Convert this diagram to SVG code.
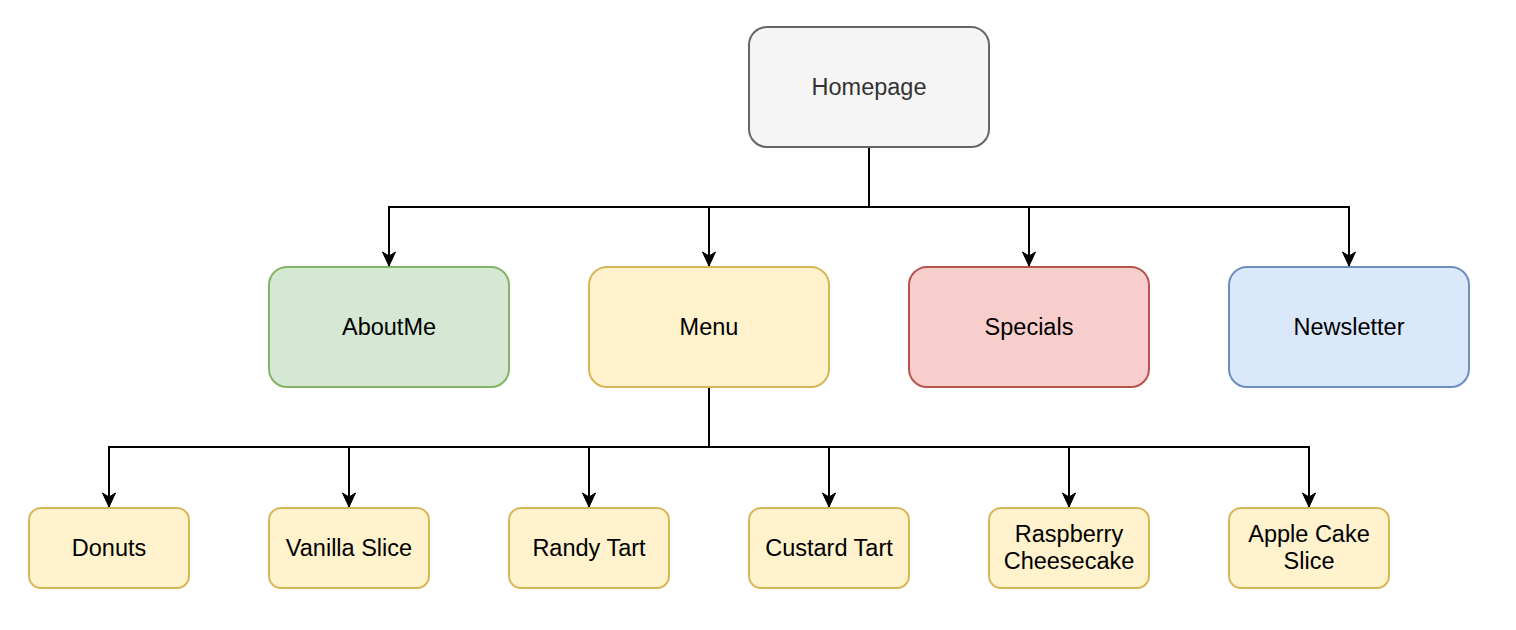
<svg xmlns="http://www.w3.org/2000/svg" width="1516" height="630" viewBox="0 0 1516 630">
<defs>
<style>
text{font-family:"Liberation Sans",Arial,sans-serif;font-size:23.5px;text-anchor:middle;fill:#000}
.box{stroke-width:2}
.gray{fill:#f5f5f5;stroke:#666666}
.green{fill:#d5e8d4;stroke:#82b366}
.yellow{fill:#fff2cc;stroke:#d6b656}
.red{fill:#f8cecc;stroke:#b85450}
.blue{fill:#dae8fc;stroke:#6c8ebf}
.edge{fill:none;stroke:#000;stroke-width:2}
</style>
<marker id="arr" markerUnits="userSpaceOnUse" markerWidth="18" markerHeight="18" viewBox="-16 -9 18 18" refX="0" refY="0" orient="auto">
<path d="M0,0 L-14,-6.5 L-10,0 L-14,6.5 Z" fill="#000" stroke="#000" stroke-width="1"/>
</marker>
</defs>
<rect width="1516" height="630" fill="#fff"/>
<g id="connectors">
<path class="edge" d="M869,147 V207 H389 V266" marker-end="url(#arr)"/>
<path class="edge" d="M869,207 H709 V266" marker-end="url(#arr)"/>
<path class="edge" d="M869,207 H1029 V266" marker-end="url(#arr)"/>
<path class="edge" d="M869,207 H1349 V266" marker-end="url(#arr)"/>
<path class="edge" d="M709,387 V447 H109 V507" marker-end="url(#arr)"/>
<path class="edge" d="M349,447 V507" marker-end="url(#arr)"/>
<path class="edge" d="M589,447 V507" marker-end="url(#arr)"/>
<path class="edge" d="M709,447 H829 V507" marker-end="url(#arr)"/>
<path class="edge" d="M829,447 H1069 V507" marker-end="url(#arr)"/>
<path class="edge" d="M1069,447 H1309 V507" marker-end="url(#arr)"/>
</g>
<g id="homepage"><rect class="box gray" x="749" y="27" width="240" height="120" rx="18"/><text x="869" y="95" style="fill:#333333">Homepage</text></g>
<g id="aboutme"><rect class="box green" x="269" y="267" width="240" height="120" rx="18"/><text x="389" y="335">AboutMe</text></g>
<g id="menu"><rect class="box yellow" x="589" y="267" width="240" height="120" rx="18"/><text x="709" y="335">Menu</text></g>
<g id="specials"><rect class="box red" x="909" y="267" width="240" height="120" rx="18"/><text x="1029" y="335">Specials</text></g>
<g id="newsletter"><rect class="box blue" x="1229" y="267" width="240" height="120" rx="18"/><text x="1349" y="335">Newsletter</text></g>
<g id="donuts"><rect class="box yellow" x="29" y="508" width="160" height="80" rx="12"/><text x="109" y="556">Donuts</text></g>
<g id="vanilla"><rect class="box yellow" x="269" y="508" width="160" height="80" rx="12"/><text x="349" y="556">Vanilla Slice</text></g>
<g id="randy"><rect class="box yellow" x="509" y="508" width="160" height="80" rx="12"/><text x="589" y="556">Randy Tart</text></g>
<g id="custard"><rect class="box yellow" x="749" y="508" width="160" height="80" rx="12"/><text x="829" y="556">Custard Tart</text></g>
<g id="raspberry"><rect class="box yellow" x="989" y="508" width="160" height="80" rx="12"/><text x="1069" y="542">Raspberry</text><text x="1069" y="569">Cheesecake</text></g>
<g id="applecake"><rect class="box yellow" x="1229" y="508" width="160" height="80" rx="12"/><text x="1309" y="542">Apple Cake</text><text x="1309" y="569">Slice</text></g>
</svg>
